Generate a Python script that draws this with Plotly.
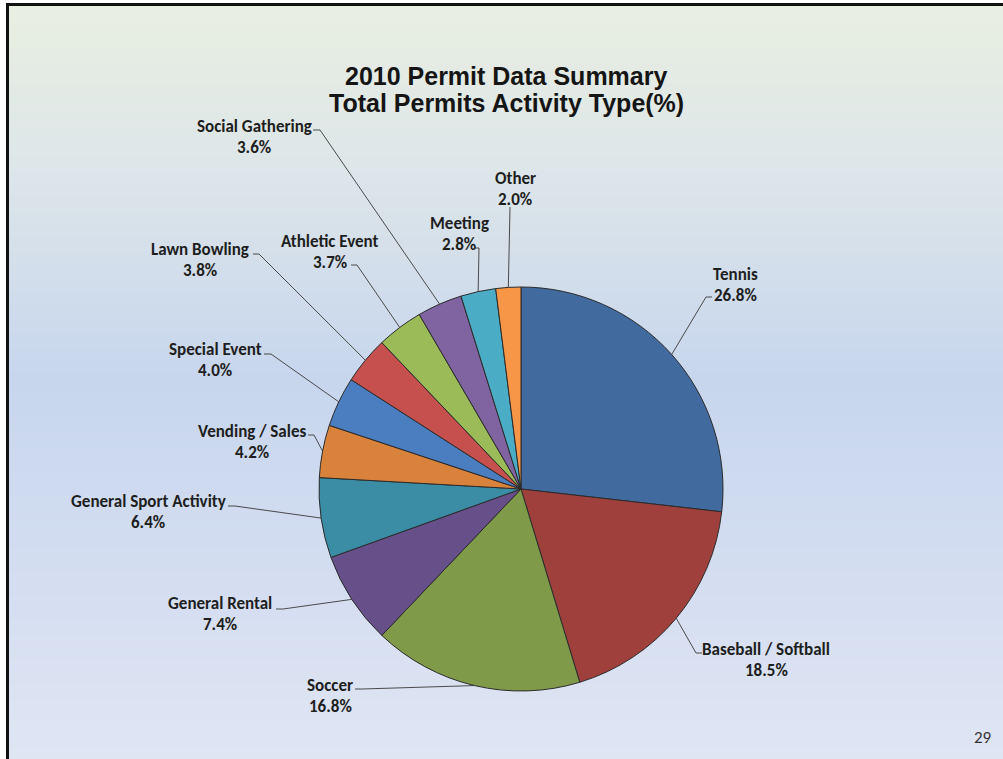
import math
import plotly.graph_objects as go

# ---------------- data ----------------
categories = ["Tennis", "Baseball / Softball", "Soccer", "General Rental",
              "General Sport Activity", "Vending / Sales", "Special Event",
              "Lawn Bowling", "Athletic Event", "Social Gathering", "Meeting", "Other"]
values = [26.8, 18.5, 16.8, 7.4, 6.4, 4.2, 4.0, 3.8, 3.7, 3.6, 2.8, 2.0]

# ---------------- styles / layout ----------------
colors = ["#416a9f", "#a0403d", "#7f9a48", "#67508a", "#3b8da5", "#d9823c",
          "#4a7ec0", "#c6504d", "#9bbb59", "#8064a2", "#4bacc6", "#f79646"]

W, H = 1003, 759
CX, CY, R = 521, 489, 202          # pie centre / radius in pixels

# label anchor (text centre x, first-line centre y) in pixels
label_xy = [(735, 274), (766, 649), (330, 685), (220, 603), (148, 501), (252, 431),
            (215, 349), (200, 249), (330, 241), (254, 126), (459, 223), (515, 178)]
# leader line: start point near the label, elbow point (pixels)
leader_start = [(712, 297), (702, 653), (355, 689), (276, 609), (228, 506), (308, 435),
                (264, 354), (253, 254), (351, 265), (313, 130), (475, 248), (510, 207)]
leader_elbow = [(706, 297), (696, 653), (362, 689), (283, 609), (235, 506), (314, 435),
                (271, 354), (259, 254), (357, 265), (320, 130), (479, 248), (510, 207)]

LABEL_FONT = "Carlito, Roboto, sans-serif"
LABEL_SIZE = 17
TEXT_COLOR = "#1e1e1e"

fig = go.Figure()

# background gradient (pure styling)
stops = [(0, (233, 239, 224)), (150, (223, 231, 232)), (380, (199, 214, 237)),
         (560, (211, 221, 240)), (759, (223, 229, 243))]


def grad(y):
    for (y0, c0), (y1, c1) in zip(stops[:-1], stops[1:]):
        if y0 <= y <= y1:
            t = (y - y0) / (y1 - y0)
            return "rgb(%d,%d,%d)" % tuple(round(a + (b - a) * t) for a, b in zip(c0, c1))
    return "rgb(%d,%d,%d)" % stops[-1][1]


shapes = []
step = 4
for y in range(4, H, step):
    shapes.append(dict(type="rect", xref="x", yref="y", x0=8, x1=W, y0=y, y1=y + step + 0.5,
                       fillcolor=grad(y + step / 2), line=dict(width=0), layer="below"))
# slide frame (left and top black edge)
shapes.append(dict(type="line", xref="x", yref="y", x0=7.5, x1=7.5, y0=3, y1=H,
                   line=dict(color="#111111", width=3), layer="below"))
shapes.append(dict(type="line", xref="x", yref="y", x0=6, x1=W, y0=4.5, y1=4.5,
                   line=dict(color="#111111", width=3), layer="below"))

# pie
fig.add_trace(go.Pie(
    labels=categories, values=values, sort=False, direction="clockwise", rotation=0,
    marker=dict(colors=colors, line=dict(color="#2b2b2b", width=1)),
    textinfo="none", hoverinfo="label+percent", showlegend=False,
    domain=dict(x=[(CX - R) / W, (CX + R) / W], y=[1 - (CY + R) / H, 1 - (CY - R) / H]),
))

# leader lines computed from the data (slice mid-angles)
total = sum(values)
lx, ly = [], []
cum = 0.0
for i, v in enumerate(values):
    theta = 2 * math.pi * (cum + v / 2) / total
    cum += v
    ex = CX + R * math.sin(theta)
    ey = CY - R * math.cos(theta)
    sx, sy = leader_start[i]
    bx, by = leader_elbow[i]
    lx += [sx, bx, ex, None]
    ly += [sy, by, ey, None]
fig.add_trace(go.Scatter(x=lx, y=ly, mode="lines", line=dict(color="#4a4a4a", width=1),
                         hoverinfo="skip", showlegend=False))

annotations = []
for (x, y), name, v in zip(label_xy, categories, values):
    annotations.append(dict(x=x, y=y, xref="x", yref="y", text="<b>%s</b>" % name,
                            showarrow=False, xanchor="center", yanchor="middle",
                            font=dict(family=LABEL_FONT, size=LABEL_SIZE, color=TEXT_COLOR)))
    annotations.append(dict(x=x, y=y + 21, xref="x", yref="y", text="<b>%.1f%%</b>" % v,
                            showarrow=False, xanchor="center", yanchor="middle",
                            font=dict(family=LABEL_FONT, size=LABEL_SIZE, color=TEXT_COLOR)))

# title (two lines) and page number
title_lines = ["2010 Permit Data Summary", "Total Permits Activity Type(%)"]
for txt, y in zip(title_lines, [76, 103]):
    annotations.append(dict(x=506, y=y, xref="x", yref="y", text="<b>%s</b>" % txt,
                            showarrow=False, xanchor="center", yanchor="middle",
                            font=dict(family="Liberation Sans, Arial, sans-serif", size=25,
                                      color="#151515")))
annotations.append(dict(x=983, y=737, xref="x", yref="y", text="29", showarrow=False,
                        xanchor="center", yanchor="middle",
                        font=dict(family=LABEL_FONT, size=17, color="#333333")))

fig.update_layout(
    width=W, height=H, margin=dict(l=0, r=0, t=0, b=0),
    paper_bgcolor="white", plot_bgcolor="rgba(0,0,0,0)",
    xaxis=dict(range=[0, W], visible=False, fixedrange=True),
    yaxis=dict(range=[H, 0], visible=False, fixedrange=True),
    shapes=shapes, annotations=annotations, showlegend=False,
)

fig.write_html("out.html")
